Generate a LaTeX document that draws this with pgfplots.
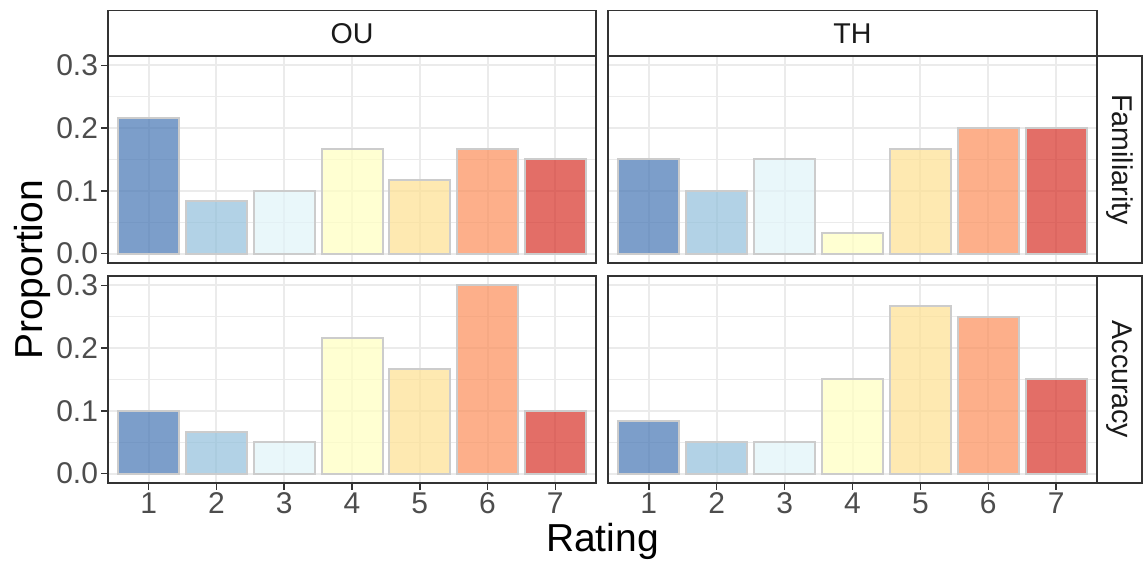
\documentclass[border=0pt]{standalone}
\usepackage{fontspec}
\setmainfont{Liberation Sans}
\usepackage{pgfplots}
\pgfplotsset{compat=1.18}
\definecolor{c1}{HTML}{4575B4}
\definecolor{c2}{HTML}{91BFDB}
\definecolor{c3}{HTML}{E0F3F8}
\definecolor{c4}{HTML}{FFFFBF}
\definecolor{c5}{HTML}{FEE090}
\definecolor{c6}{HTML}{FC8D59}
\definecolor{c7}{HTML}{D73027}
\definecolor{gridc}{HTML}{EBEBEB}
\definecolor{framec}{HTML}{333333}
\definecolor{tickc}{HTML}{4D4D4D}
\definecolor{stripc}{HTML}{1A1A1A}
\definecolor{barline}{HTML}{CCCCCC}
\newcommand{\onebar}[3]{\addplot[ybar,bar shift=0pt,bar width=0.9,fill=#1,fill opacity=0.7,draw=barline,line width=1pt] coordinates {(#2,#3)};}
\newcommand{\bars}[7]{%
\onebar{c1}{1}{#1}\onebar{c2}{2}{#2}\onebar{c3}{3}{#3}\onebar{c4}{4}{#4}%
\onebar{c5}{5}{#5}\onebar{c6}{6}{#6}\onebar{c7}{7}{#7}}
\pgfplotsset{panel/.style={
  scale only axis, anchor=south west,
  xmin=0.4, xmax=7.6, ymin=-0.015, ymax=0.315,
  xtick={1,2,3,4,5,6,7}, xticklabels={1,2,3,4,5,6,7},
  ytick={0,0.1,0.2,0.3}, yticklabels={0.0,0.1,0.2,0.3},
  minor ytick={0.05,0.15,0.25},
  xmajorgrids, ymajorgrids, yminorgrids,
  major grid style={draw=gridc, line width=1pt},
  minor grid style={draw=gridc, line width=0.5pt},
  tick align=outside, major tick length=3.3pt, minor tick length=0pt,
  tick style={draw=framec, line width=0.8pt},
  xtick pos=bottom, ytick pos=left,
  axis line style={draw=framec, line width=0.8pt},
  ticklabel style={font=\fontsize{15}{17}\selectfont, text=tickc, inner sep=1.5pt},
}}
\begin{document}
\begin{tikzpicture}[x=1pt,y=1pt]
\useasboundingbox (0,0) rectangle (571.5,280.5);
% Familiarity, OU
\begin{axis}[panel, at={(54pt,149pt)}, width=244pt, height=103.5pt, xmajorticks=false]
\bars{0.2167}{0.0833}{0.1}{0.1667}{0.1167}{0.1667}{0.15}
\end{axis}
% Accuracy, OU
\begin{axis}[panel, at={(54pt,39pt)}, width=244pt, height=103.5pt]
\bars{0.1}{0.0667}{0.05}{0.2167}{0.1667}{0.3}{0.1}
\end{axis}
% Familiarity, TH
\begin{axis}[panel, at={(304pt,149pt)}, width=244.5pt, height=103.5pt, xmajorticks=false, ymajorticks=false]
\bars{0.15}{0.1}{0.15}{0.0333}{0.1667}{0.2}{0.2}
\end{axis}
% Accuracy, TH
\begin{axis}[panel, at={(304pt,39pt)}, width=244.5pt, height=103.5pt, ymajorticks=false]
\bars{0.0833}{0.05}{0.05}{0.15}{0.2667}{0.25}{0.15}
\end{axis}
% strips
\draw[framec, line width=0.8pt, fill=white] (54,252.5) rectangle (298,275.2);
\draw[framec, line width=0.8pt, fill=white] (304,252.5) rectangle (548.5,275.2);
\draw[framec, line width=0.8pt, fill=white] (548.5,149) rectangle (571,252.5);
\draw[framec, line width=0.8pt, fill=white] (548.5,39) rectangle (571,142.5);
\node[text=stripc, font=\fontsize{14.3}{16}\selectfont] at (176,263.85) {OU};
\node[text=stripc, font=\fontsize{14.3}{16}\selectfont] at (426.25,263.85) {TH};
\node[text=stripc, font=\fontsize{14.3}{16}\selectfont, rotate=-90] at (559.75,200.75) {Familiarity};
\node[text=stripc, font=\fontsize{14.3}{16}\selectfont, rotate=-90] at (559.75,90.75) {Accuracy};
% axis titles
\node[font=\fontsize{19.5}{22}\selectfont, rotate=90, anchor=base] at (21,145.5) {Proportion};
\node[font=\fontsize{19.5}{22}\selectfont, anchor=base] at (301.25,4.6) {Rating};
\end{tikzpicture}
\end{document}
